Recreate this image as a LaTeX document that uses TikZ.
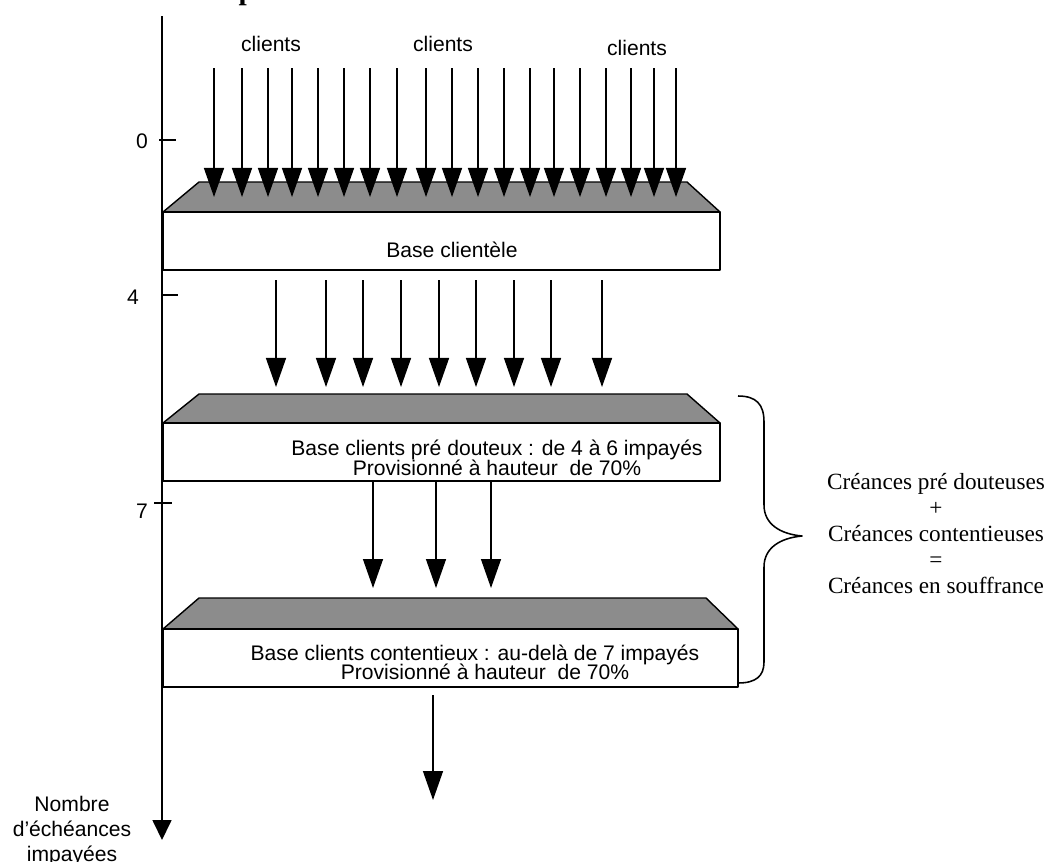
\documentclass[tikz,border=0pt]{standalone}
\usepackage{fontspec}
\setmainfont{Liberation Serif}
\setsansfont{Liberation Sans}
\usetikzlibrary{arrows.meta}
\definecolor{gris}{gray}{0.55}
\tikzset{
	etiquette/.style={font=\sffamily\fontsize{15}{14}\selectfont, inner sep=0pt},
	somme/.style={font=\fontsize{16.5}{18.5}\selectfont, inner sep=0pt, anchor=base},
	plateau/.style={fill=gris, draw=black, line width=1pt}
}
\begin{document}
\begin{tikzpicture}[line width = 1pt, line join=round, x=0.025cm, y=-0.025cm, >={Triangle[length=0.725cm,width=0.5cm]}]
	\useasboundingbox (0,0) rectangle (1050,861);
	% Titre (coupé)
	\node (titre) [anchor=base west, font=\bfseries\fontsize{21}{21}\selectfont, inner sep=0pt] at (238,0) {p};
	% Axe des impayés
	\draw [-{Triangle[length=0.5cm,width=0.475cm]}, line width=1.2pt] (162,16) -- (162,840);
	\draw [line width=1.2pt] (159,140) -- (176,140);
	\draw [line width=1.2pt] (162,295) -- (178,295);
	\draw [line width=1.2pt] (154,503) -- (172,503);
	\node (n0) [etiquette] at (142,141) {0};
	\node (n4) [etiquette] at (133,297) {4};
	\node (n7) [etiquette] at (142,511) {7};
	\node (nb1) [etiquette, anchor=base] at (72,811) {Nombre};
	\node (nb2) [etiquette, anchor=base] at (72,836) {d’échéances};
	\node (nb3) [etiquette, anchor=base] at (72,861) {impayées};
	% Clients entrants
	\node (cl1) [etiquette] at (271,44) {clients};
	\node (cl2) [etiquette] at (443,44) {clients};
	\node (cl3) [etiquette] at (637,48) {clients};
	% Base clientèle
	\draw [plateau] (163,212) -- (199,182) -- (687,182) -- (720,212) -- cycle;
	\draw (163,212) rectangle (720,270);
	\draw [line width=2pt] (163,212) -- (720,212);
	\node (base) [etiquette, anchor=base] at (452,257) {Base clientèle};
	\foreach \x in {214,242,268,292,318,344,370,397,426,452,478,504,530,554,580,606,631,654,676}
		\draw [->] (\x,68) -- (\x,197);
	% Base pré douteux
	\foreach \x in {276,326,363,401,439,476,514,551,602}
		\draw [->] (\x,280) -- (\x,387);
	\draw [plateau] (163,423) -- (199,394) -- (687,394) -- (720,423) -- cycle;
	\draw (163,423) rectangle (720,481);
	\draw [line width=2pt] (163,423) -- (720,423);
	\node (pre1) [etiquette, anchor=base] at (497,455) {Base clients pré douteux : de 4 à 6 impayés};
	\node (pre2) [etiquette, anchor=base] at (497,475) {Provisionné à hauteur~~de 70\%};
	% Base contentieux
	\foreach \x in {373,436,491}
		\draw [->] (\x,481) -- (\x,588);
	\draw [plateau] (163,629) -- (199,598) -- (706,598) -- (738,629) -- cycle;
	\draw (163,629) rectangle (738,687);
	\draw [line width=2pt] (163,629) -- (738,629);
	\node (con1) [etiquette, anchor=base] at (475,660) {Base clients contentieux : au-delà de 7 impayés};
	\node (con2) [etiquette, anchor=base] at (485,679) {Provisionné à hauteur~~de 70\%};
	\draw [->] (433,695) -- (433,800);
	% Accolade et somme
	\draw [line width=1.1pt] (738,396) .. controls (756,396) and (764,404) .. (764,422) -- (764,505)
		.. controls (764,524) and (780,534) .. (802,536)
		.. controls (780,538) and (764,548) .. (764,567) -- (764,662)
		.. controls (764,676) and (756,683) .. (738,683);
	\node (s1) [somme] at (936,489) {Créances pré douteuses};
	\node (s2) [somme] at (936,515) {+};
	\node (s3) [somme] at (936,541) {Créances contentieuses};
	\node (s4) [somme] at (936,567) {=};
	\node (s5) [somme] at (936,593) {Créances en souffrance};
\end{tikzpicture}
\end{document}
